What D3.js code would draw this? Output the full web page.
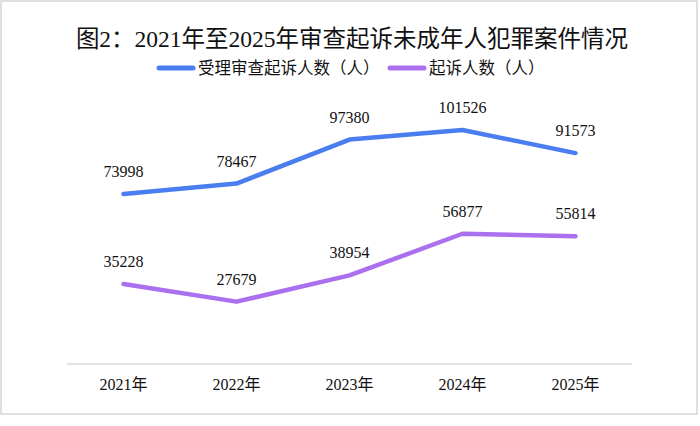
<!DOCTYPE html>
<html>
<head>
<meta charset="utf-8">
<script src="https://cdn.jsdelivr.net/npm/d3@7"></script>
<style>
  body { margin: 0; background: #fff; }
  svg { display: block; }
  text { font-family: "Liberation Serif", "Noto Sans CJK SC", serif; fill: #111; }
</style>
</head>
<body>
<div id="chart"></div>
<script>
// data
const years = ["2021年", "2022年", "2023年", "2024年", "2025年"];
const reviewed = [73998, 78467, 97380, 101526, 91573];   // 受理审查起诉人数（人）
const prosecuted = [35228, 27679, 38954, 56877, 55814];  // 起诉人数（人）
const seriesNames = ["受理审查起诉人数（人）", "起诉人数（人）"];
const colors = ["#4a7ef0", "#ab70ee"];

const W = 700, H = 426;
const margin = {top: 87, right: 68, bottom: 62, left: 67};

const svg = d3.select("#chart").append("svg")
    .attr("width", W)
    .attr("height", H);

// outer frame
svg.append("rect")
    .attr("x", 1).attr("y", 1)
    .attr("width", 696).attr("height", 413)
    .attr("fill", "#fff")
    .attr("stroke", "#d6d6d6")
    .attr("stroke-width", 1.5);

const x = d3.scaleBand()
    .domain(years)
    .range([margin.left, W - margin.right]);

const y = d3.scaleLinear()
    .domain([0, 120000])
    .range([H - margin.bottom + 2, margin.top]);

// title
svg.append("text")
    .attr("x", 352).attr("y", 47)
    .attr("text-anchor", "middle")
    .style("font-size", "23.5px")
    .text("图2：2021年至2025年审查起诉未成年人犯罪案件情况");

// baseline
svg.append("line")
    .attr("x1", margin.left).attr("x2", W - margin.right)
    .attr("y1", H - margin.bottom).attr("y2", H - margin.bottom)
    .attr("stroke", "#d9d9d9")
    .attr("stroke-width", 1.5);

// x labels
svg.append("g")
    .selectAll("text")
    .data(years)
    .join("text")
    .attr("x", d => x(d) + x.bandwidth() / 2)
    .attr("y", 390)
    .attr("text-anchor", "middle")
    .style("font-size", "16px")
    .text(d => d);

// legend
const legendItems = [
    {name: seriesNames[0], color: colors[0], x: 159},
    {name: seriesNames[1], color: colors[1], x: 390}
];
const legend = svg.append("g");
legend.selectAll("line")
    .data(legendItems)
    .join("line")
    .attr("x1", d => d.x).attr("x2", d => d.x + 34)
    .attr("y1", 68).attr("y2", 68)
    .attr("stroke", d => d.color)
    .attr("stroke-width", 5)
    .attr("stroke-linecap", "round");
legend.selectAll("text")
    .data(legendItems)
    .join("text")
    .attr("x", d => d.x + 39)
    .attr("y", 74)
    .style("font-size", "16.5px")
    .text(d => d.name);

// lines + labels
const line = d3.line()
    .x((d, i) => x(years[i]) + x.bandwidth() / 2)
    .y(d => y(d));

[reviewed, prosecuted].forEach((vals, k) => {
    svg.append("path")
        .datum(vals)
        .attr("fill", "none")
        .attr("stroke", colors[k])
        .attr("stroke-width", 4.5)
        .attr("stroke-linejoin", "round")
        .attr("stroke-linecap", "round")
        .attr("d", line);

    svg.append("g")
        .selectAll("text")
        .data(vals)
        .join("text")
        .attr("x", (d, i) => x(years[i]) + x.bandwidth() / 2)
        .attr("y", d => y(d) - 17)
        .attr("text-anchor", "middle")
        .style("font-size", "16px")
        .text(d => d);
});
</script>
</body>
</html>
